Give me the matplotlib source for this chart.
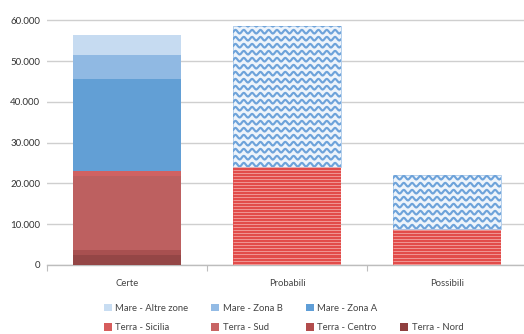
import numpy as np
import matplotlib
matplotlib.use("Agg")
import matplotlib.pyplot as plt
from matplotlib.patches import Patch

plt.rcParams['font.family'] = ['Lato', 'DejaVu Sans']

categories = ['Certe', 'Probabili', 'Possibili']

# Confirmed amounts, split by zone (stacked from the bottom up)
terra_nord    = [2500, 0, 0]
terra_centro  = [1200, 0, 0]
terra_sud     = [18200, 0, 0]
terra_sicilia = [1150, 0, 0]
mare_zona_a   = [22500, 0, 0]
mare_zona_b   = [5950, 0, 0]
mare_altre    = [4900, 0, 0]

# Probable / possible amounts, only known as land and sea totals
terra_stimata = [0, 24000, 8800]
mare_stimato  = [0, 34600, 13300]

y_ticks = [0, 10000, 20000, 30000, 40000, 50000, 60000]

series = [
    ('Terra - Nord',      terra_nord,    '#944646', '#8f3f3f'),
    ('Terra - Centro',    terra_centro,  '#a85050', '#b24c4c'),
    ('Terra - Sud',       terra_sud,     '#bd6060', '#c86464'),
    ('Terra - Sicilia',   terra_sicilia, '#d06262', '#d65c5c'),
    ('Mare - Zona A',     mare_zona_a,   '#629fd5', '#5f9ed7'),
    ('Mare - Zona B',     mare_zona_b,   '#90b9e3', '#93bbe5'),
    ('Mare - Altre zone', mare_altre,    '#c6dbf1', '#c8ddf2'),
]

W, H = 524, 334
fig = plt.figure(figsize=(W / 100, H / 100), dpi=100)
ax = fig.add_axes([47 / W, (H - 265) / H, 480 / W, 265 / H])
ax.set_xlim(-0.5, 2.5)
ax.set_ylim(0, 65000)

x = np.arange(len(categories))
bw = 0.67
bottom = np.zeros(len(categories))
handles = {}
for name, vals, col, lcol in series:
    vals = np.array(vals, dtype=float)
    ax.bar(x, vals, bw, bottom=bottom, color=col, linewidth=0, zorder=3)
    bottom += vals
    handles[name] = Patch(facecolor=lcol, edgecolor='none')

# data units per pixel, for the fill patterns
inv = ax.transData.inverted()
(xa, ya), (xb, yb) = inv.transform([(0, 0), (1, 1)])
sx, sy = xb - xa, yb - ya

terra_bars = ax.bar(x, terra_stimata, bw, bottom=0, color='#e24c4a',
                    linewidth=0, zorder=3)
mare_bars = ax.bar(x, mare_stimato, bw, bottom=terra_stimata, color='#eef4fb',
                   edgecolor='#a9c8ea', linewidth=0.6, zorder=3)

# horizontal pinstripes on the land bars
for p in terra_bars:
    if p.get_height() <= 0:
        continue
    x0, y0, w, h = p.get_x(), p.get_y(), p.get_width(), p.get_height()
    n = int(h / (3 * sy)) + 2
    for k in range(n):
        yy = y0 + (k + 0.5) * 3 * sy
        ln, = ax.plot([x0, x0 + w], [yy, yy], color='#f3aaa8', lw=0.55,
                      zorder=4, solid_capstyle='butt')
        ln.set_clip_path(p)

# wavy pattern on the sea bars
for p in mare_bars:
    if p.get_height() <= 0:
        continue
    x0, y0, w, h = p.get_x(), p.get_y(), p.get_width(), p.get_height()
    xs = np.linspace(x0, x0 + w, 300)
    period = 8.3 * sx
    n = int(h / (7.0 * sy)) + 2
    for k in range(n):
        yy = y0 + (k + 0.35) * 7.0 * sy
        ys = yy + 1.8 * sy * np.sin(2 * np.pi * (xs - x0) / period)
        ln, = ax.plot(xs, ys, color='#6ea3da', lw=1.55, zorder=4)
        ln.set_clip_path(p)

# axes styling
for s in ['top', 'right', 'left']:
    ax.spines[s].set_visible(False)
ax.spines['bottom'].set_color('#bdbdbd')
ax.spines['bottom'].set_linewidth(1.0)
ax.set_yticks(y_ticks)
ax.set_yticklabels([f'{v:,}'.replace(',', '.') for v in y_ticks])
ax.yaxis.grid(True, color='#cfcfcf', linewidth=1.0, zorder=0)
ax.tick_params(axis='y', length=0, pad=5, labelsize=7, labelcolor='#333333')

ax.set_xticks(x)
ax.set_xticklabels(categories)
ax.set_xticks([-0.5, 0.5, 1.5, 2.5], minor=True)
ax.tick_params(axis='x', which='major', length=0, pad=10, labelsize=6.8,
               labelcolor='#444444')
ax.tick_params(axis='x', which='minor', length=4, width=0.8, color='#bdbdbd')
ax.set_axisbelow(True)

blank = Patch(facecolor='none', edgecolor='none')
order = [handles['Mare - Altre zone'], handles['Terra - Sicilia'],
         handles['Mare - Zona B'], handles['Terra - Sud'],
         handles['Mare - Zona A'], handles['Terra - Centro'],
         blank, handles['Terra - Nord']]
labels = ['Mare - Altre zone', 'Terra - Sicilia', 'Mare - Zona B', 'Terra - Sud',
          'Mare - Zona A', 'Terra - Centro', '', 'Terra - Nord']
leg = fig.legend(order, labels, ncol=4, loc='center',
                 bbox_to_anchor=(283.5 / W, 1 - 318 / H), frameon=False,
                 fontsize=6.8, handlelength=0.85, handleheight=0.85,
                 handletextpad=0.35, columnspacing=2.45, labelspacing=1.15,
                 borderpad=0, borderaxespad=0)
for t in leg.get_texts():
    t.set_color('#444444')

fig.savefig('out.png', dpi=100)
